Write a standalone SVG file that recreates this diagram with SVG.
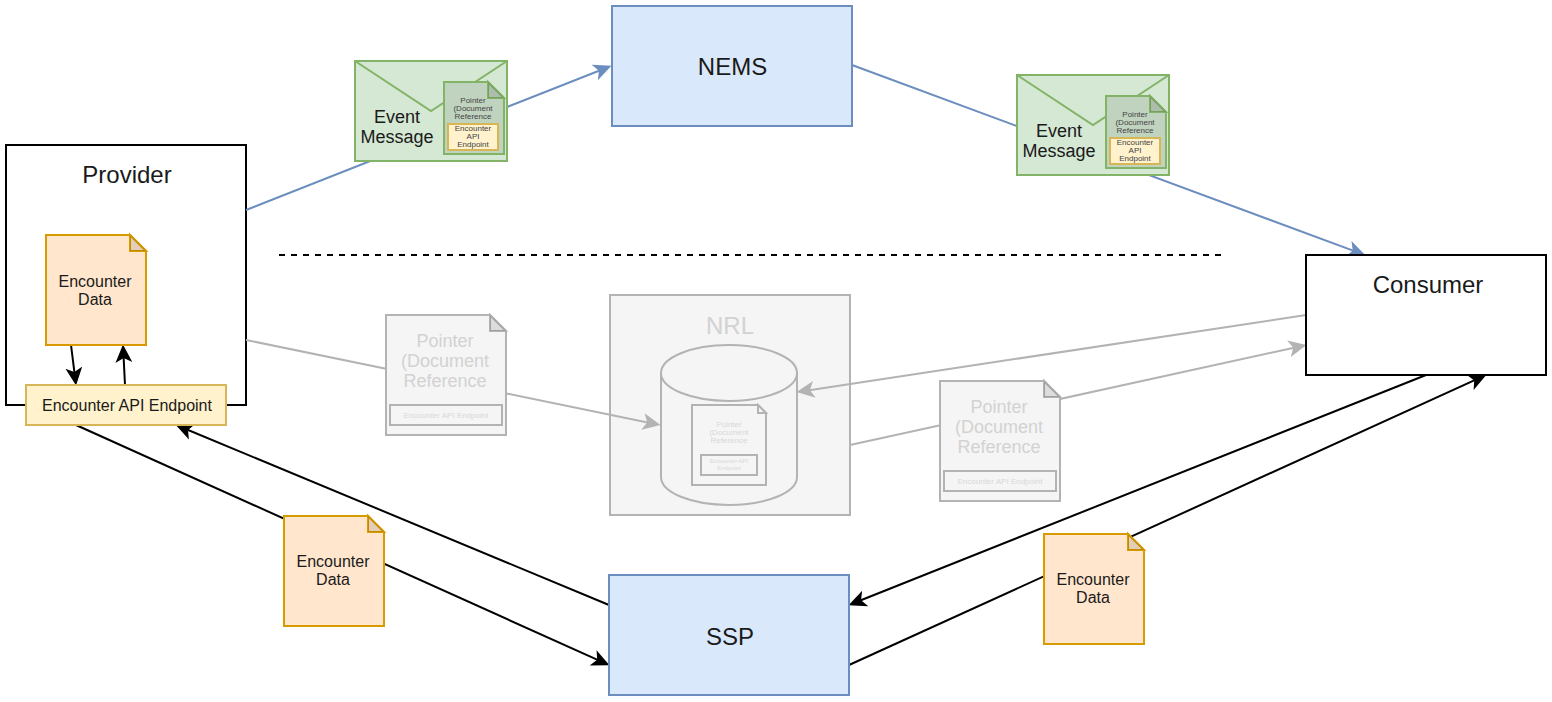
<svg xmlns="http://www.w3.org/2000/svg" width="1552" height="702" viewBox="0 0 1552 702">
<style>
text{font-family:"Liberation Sans",Arial,sans-serif;text-anchor:middle;fill:#1a1a1a}
.t24{font-size:24px}.t18{font-size:18px}.t16{font-size:16px}.t8{font-size:8px}.t6{font-size:6px}
text.g{fill:#d2d2d2}text.gi{fill:#d8d8d8}text.s{fill:#444}
.blue{fill:#dae8fc;stroke:#6c8ebf;stroke-width:2}
.green{fill:#d5e8d4;stroke:#82b366;stroke-width:2}
.green2{fill:#c0d3bf;stroke:#82b366;stroke-width:2}
.yellow{fill:#fff2cc;stroke:#d6b656;stroke-width:2}
.orange{fill:#ffe6cc;stroke:#d79b00;stroke-width:2}
.gray{fill:#f5f5f5;stroke:#b3b3b3;stroke-width:2}
.white{fill:#fff;stroke:#000;stroke-width:2}
.fold{fill-opacity:.1;fill:#000}
.c{fill:none;stroke-width:2}
.cb{stroke:#6c8ebf;marker-end:url(#ab)}
.cg{stroke:#b3b3b3;marker-end:url(#ag)}
.ck{stroke:#000;marker-end:url(#ak)}
</style>
<defs>
<marker id="ab" markerUnits="userSpaceOnUse" markerWidth="18" markerHeight="18" viewBox="0 0 16 16" refX="12" refY="8" orient="auto"><path d="M16 8L0 0.5L4 8L0 15.5Z" fill="#6c8ebf"/></marker>
<marker id="ag" markerUnits="userSpaceOnUse" markerWidth="18" markerHeight="18" viewBox="0 0 16 16" refX="12" refY="8" orient="auto"><path d="M16 8L0 0.5L4 8L0 15.5Z" fill="#b3b3b3"/></marker>
<marker id="ak" markerUnits="userSpaceOnUse" markerWidth="18" markerHeight="18" viewBox="0 0 16 16" refX="12" refY="8" orient="auto"><path d="M16 8L0 0.5L4 8L0 15.5Z" fill="#000"/></marker>
</defs>
<g id="provider"><rect class="white" x="6" y="145" width="240" height="260"/><text class="t24" x="127" y="183">Provider</text></g>
<g id="nrl"><rect class="gray" x="610" y="295" width="240" height="220"/><text class="t24 g" x="730" y="333.5">NRL</text>
<path class="gray" d="M661 373V477A68 28 0 0 0 797 477V373Z"/><ellipse class="gray" cx="729" cy="373" rx="68" ry="28"/>
<path class="gray" d="M692 405H758L766 413V485H692Z"/><path class="gray" d="M758 405V413H766Z"/>
<text class="t8 gi" x="729" y="427">Pointer</text><text class="t8 gi" x="729" y="435">(Document</text><text class="t8 gi" x="729" y="443">Reference</text>
<rect class="gray" x="701" y="455" width="56" height="20"/><text class="t6 gi" x="729" y="463">Encounter API</text><text class="t6 gi" x="729" y="470">Endpoint</text></g>
<g id="connectors">
<path class="c cb" d="M246 210L607.3 67.5"/>
<path class="c cb" d="M852 65L1361.2 253.6"/>
<path class="c cg" d="M246 340L656.1 424.2"/>
<path class="c cg" d="M1306 315L801 391.4"/>
<path class="c cg" d="M850 445L1302.1 345.9"/>
<path class="c ck" d="M76 425L605.4 663.4"/>
<path class="c ck" d="M609 605L179.7 426.5"/>
<path class="c ck" d="M1426 375L852.7 603.5"/>
<path class="c ck" d="M849 665L1482.4 376.7"/>
<path class="c ck" d="M71 345L75.5 381"/>
<path class="c ck" d="M125 385L123.2 349"/>
<path class="c" stroke="#000" stroke-dasharray="6 6" d="M279 255H1221"/>
</g>
<g id="encounter-data-1"><path class="orange" d="M46 235H130L146 251V345H46Z"/><path class="orange" d="M130 235V251H146Z"/><path class="fold" d="M130 235V251H146Z"/><text class="t16" x="95" y="287">Encounter</text><text class="t16" x="95" y="305">Data</text></g>
<g id="endpoint"><rect class="yellow" x="26" y="385" width="200" height="40"/><text class="t16" x="127" y="411">Encounter API Endpoint</text></g>
<g id="nems"><rect class="blue" x="612" y="6" width="240" height="120"/><text class="t24" x="732.5" y="75">NEMS</text></g>
<g id="consumer"><rect class="white" x="1306" y="255" width="240" height="120"/><text class="t24" x="1428" y="293">Consumer</text></g>
<g id="ssp"><rect class="blue" x="609" y="575" width="240" height="120"/><text class="t24" x="730" y="645">SSP</text></g>
<g id="event-message-1"><rect class="green" x="355" y="61" width="152" height="100"/><path class="green" style="fill:none" d="M355 61L431 111L507 61"/><text class="t18" x="397" y="122.5">Event</text><text class="t18" x="397" y="143">Message</text>
<path class="green2" d="M444 82H488L504 98V154H444Z"/><path class="green2" d="M488 82V98H504Z"/><path class="fold" d="M488 82V98H504Z"/>
<text class="t8 s" x="473" y="103">Pointer</text><text class="t8 s" x="473" y="111">(Document</text><text class="t8 s" x="473" y="119">Reference</text>
<rect class="yellow" x="448" y="124" width="50" height="26"/><text class="t8 s" x="473" y="131">Encounter</text><text class="t8 s" x="473" y="139">API</text><text class="t8 s" x="473" y="147">Endpoint</text></g>
<g id="event-message-2"><rect class="green" x="1017" y="75" width="152" height="100"/><path class="green" style="fill:none" d="M1017 75L1093 125L1169 75"/><text class="t18" x="1059" y="136.5">Event</text><text class="t18" x="1059" y="157">Message</text>
<path class="green2" d="M1106 96H1150L1166 112V168H1106Z"/><path class="green2" d="M1150 96V112H1166Z"/><path class="fold" d="M1150 96V112H1166Z"/>
<text class="t8 s" x="1135" y="117">Pointer</text><text class="t8 s" x="1135" y="125">(Document</text><text class="t8 s" x="1135" y="133">Reference</text>
<rect class="yellow" x="1110" y="138" width="50" height="26"/><text class="t8 s" x="1135" y="145">Encounter</text><text class="t8 s" x="1135" y="153">API</text><text class="t8 s" x="1135" y="161">Endpoint</text></g>
<g id="pointer-1"><path class="gray" d="M386 315H490L506 331V435H386Z"/><path class="gray" d="M490 315V331H506Z"/><path class="fold" d="M490 315V331H506Z"/><text class="t18 g" x="445" y="347">Pointer</text><text class="t18 g" x="445" y="367">(Document</text><text class="t18 g" x="445" y="387">Reference</text><rect class="gray" x="390" y="405" width="112" height="20"/><text class="t8 gi" x="446" y="418">Encounter API Endpoint</text></g>
<g id="pointer-2"><path class="gray" d="M940 381H1044L1060 397V501H940Z"/><path class="gray" d="M1044 381V397H1060Z"/><path class="fold" d="M1044 381V397H1060Z"/><text class="t18 g" x="999" y="413">Pointer</text><text class="t18 g" x="999" y="433">(Document</text><text class="t18 g" x="999" y="453">Reference</text><rect class="gray" x="944" y="471" width="112" height="20"/><text class="t8 gi" x="1000" y="484">Encounter API Endpoint</text></g>
<g id="encounter-data-2"><path class="orange" d="M284 516H368L384 532V626H284Z"/><path class="orange" d="M368 516V532H384Z"/><path class="fold" d="M368 516V532H384Z"/><text class="t16" x="333" y="567">Encounter</text><text class="t16" x="333" y="585">Data</text></g>
<g id="encounter-data-3"><path class="orange" d="M1044 534H1128L1144 550V644H1044Z"/><path class="orange" d="M1128 534V550H1144Z"/><path class="fold" d="M1128 534V550H1144Z"/><text class="t16" x="1093" y="585">Encounter</text><text class="t16" x="1093" y="603">Data</text></g>
</svg>
